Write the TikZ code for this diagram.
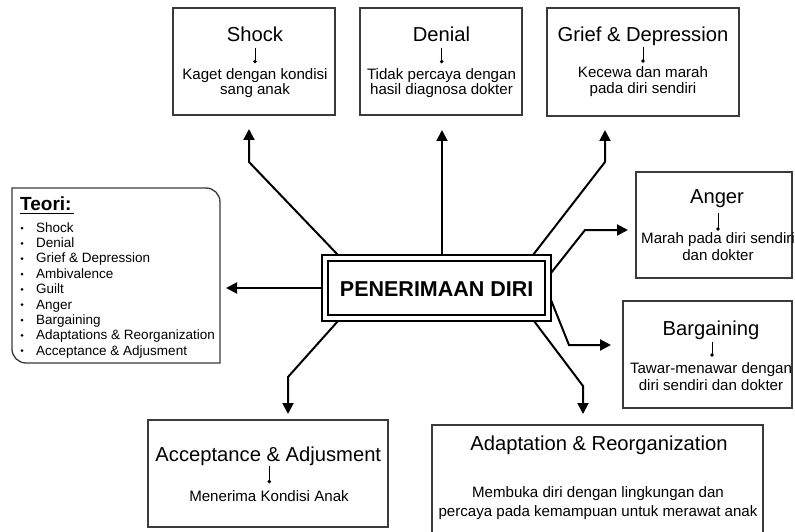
\documentclass[tikz,border=0pt]{standalone}
\usepackage{fontspec}
\setmainfont{Liberation Sans}
\usetikzlibrary{arrows.meta}
\definecolor{boxline}{HTML}{3A3A3A}
\begin{document}
\begin{tikzpicture}[x=1pt,y=-1pt,
  stagebox/.style={draw=boxline,line width=1.3pt,inner sep=0pt,outer sep=0pt},
  ttl/.style={anchor=base,inner sep=0pt,font=\fontsize{20.2}{24}\selectfont},
  sub/.style={anchor=base,inner sep=0pt,font=\fontsize{15.1}{17}\selectfont},
  lst/.style={anchor=base west,inner sep=0pt,font=\fontsize{13.5}{15}\selectfont},
  mainarrow/.style={line width=2pt,-{Triangle[length=11pt,width=11pt]}},
  dotline/.style={line width=0.8pt,-{Circle[length=3.5pt]}},
]
\useasboundingbox (0,0) rectangle (795,532);

% ---------- stage boxes ----------
\node[stagebox,minimum width=162,minimum height=107] (shock) at (254,61.5) {};
\node[stagebox,minimum width=162,minimum height=107] (denial) at (441,61.5) {};
\node[stagebox,minimum width=192,minimum height=108] (grief) at (643,62) {};
\node[stagebox,minimum width=156,minimum height=106] (anger) at (714,225) {};
\node[stagebox,minimum width=169,minimum height=107] (barg) at (707.5,354.5) {};
\node[stagebox,minimum width=240,minimum height=107] (accept) at (268,473.5) {};
\node[stagebox,minimum width=331,minimum height=120] (adapt) at (597.5,485) {};

% Shock
\node[ttl] (shockT) at (255,41.7) {Shock};
\node[sub] (shockD1) at (255,80) {Kaget dengan kondisi};
\node[sub] (shockD2) at (255,95) {sang anak};
\coordinate (shockA) at (255,47.7); \coordinate (shockB) at (255,63.3);
\draw[dotline] (shockA) -- (shockB);

% Denial
\node[ttl] (denialT) at (441.5,41.7) {Denial};
\node[sub] (denialD1) at (441.5,80) {Tidak percaya dengan};
\node[sub] (denialD2) at (441.5,95) {hasil diagnosa dokter};
\coordinate (denialA) at (441.7,47.7); \coordinate (denialB) at (441.7,63.3);
\draw[dotline] (denialA) -- (denialB);

% Grief
\node[ttl] (griefT) at (643,41.7) {Grief \& Depression};
\node[sub] (griefD1) at (643,77.5) {Kecewa dan marah};
\node[sub] (griefD2) at (643,93.3) {pada diri sendiri};
\coordinate (griefA) at (643,46.7); \coordinate (griefB) at (643,62.7);
\draw[dotline] (griefA) -- (griefB);

% Anger
\node[ttl] (angerT) at (717,203.3) {Anger};
\node[sub] (angerD1) at (718,243.3) {Marah pada diri sendiri};
\node[sub] (angerD2) at (718,260) {dan dokter};
\coordinate (angerA) at (718,213); \coordinate (angerB) at (718,230.7);
\draw[dotline] (angerA) -- (angerB);

% Bargaining
\node[ttl] (bargT) at (711,335) {Bargaining};
\node[sub] (bargD1) at (711,373.3) {Tawar-menawar dengan};
\node[sub] (bargD2) at (711,390) {diri sendiri dan dokter};
\coordinate (bargA) at (712,341.7); \coordinate (bargB) at (712,356.7);
\draw[dotline] (bargA) -- (bargB);

% Acceptance
\node[ttl] (acceptT) at (268.3,461.7) {Acceptance \& Adjusment};
\node[sub] (acceptD1) at (269,501.7) {Menerima Kondisi Anak};
\coordinate (acceptA) at (269.3,465.5); \coordinate (acceptB) at (269.3,483.3);
\draw[dotline] (acceptA) -- (acceptB);

% Adaptation
\node[ttl] (adaptT) at (599,450.7) {Adaptation \& Reorganization};
\node[sub] (adaptD1) at (598,497.5) {Membuka diri dengan lingkungan dan};
\node[sub] (adaptD2) at (598,516) {percaya pada kemampuan untuk merawat anak};

% ---------- centre ----------
\node[draw=black,line width=2pt,inner sep=0pt,outer sep=0pt,
      minimum width=229,minimum height=66] (centre) at (436.5,288) {};
\draw[line width=1.6pt] (328,261) rectangle (545,315);
\node[anchor=base,inner sep=0pt,font=\bfseries\fontsize{21.5}{25}\selectfont]
  (centreT) at (436.7,296) {PENERIMAAN DIRI};

% ---------- Teori box ----------
\node[inner sep=0pt,outer sep=0pt,minimum width=208,minimum height=175] (teori) at (115.5,275.5) {};
\draw[draw=boxline,line width=1.3pt]
  (12,188) -- (206,188) .. controls (213.7,188) and (220,194.3) .. (220,202)
  -- (220,363) -- (26,363) .. controls (18.3,363) and (12,356.7) .. (12,349) -- cycle;
\node[anchor=base west,inner sep=0pt,font=\bfseries\fontsize{19}{22}\selectfont]
  (teoriT) at (20,210) {Teori:};
\draw[line width=1.6pt] (20,213.3) -- (73.5,213.3);
\foreach \t [count=\i from 0] in {Shock,Denial,Grief \& Depression,Ambivalence,Guilt,Anger,Bargaining,Adaptations \& Reorganization,Acceptance \& Adjusment}{
  \fill (22,232.3+15.34*\i-4.3) circle (1.5);
  \node[lst] (item\i) at (36,232.3+15.34*\i) {\t};
}

% ---------- main arrows ----------
\coordinate (sShock) at (338,255);  \coordinate (tShock) at (249,129);
\coordinate (sDen) at (442,255);    \coordinate (tDen) at (442,130);
\coordinate (sGri) at (533,255);    \coordinate (tGri) at (605,130);
\coordinate (sAng) at (551,273);    \coordinate (tAng) at (628,230);
\coordinate (sBar) at (551,300);    \coordinate (tBar) at (611,345);
\coordinate (sAda) at (534,321);    \coordinate (tAda) at (583,414);
\coordinate (sAcc) at (338,321);    \coordinate (tAcc) at (288,414);
\coordinate (sTeo) at (322,288);    \coordinate (tTeo) at (226,288);

\draw[mainarrow] (sShock) -- (249,162) -- (tShock);
\draw[mainarrow] (sDen) -- (tDen);
\draw[mainarrow] (sGri) -- (605,162) -- (tGri);
\draw[mainarrow] (sAng) -- (585,230) -- (tAng);
\draw[mainarrow] (sBar) -- (569,345) -- (tBar);
\draw[mainarrow] (sAda) -- (583,386) -- (tAda);
\draw[mainarrow] (sAcc) -- (288,377) -- (tAcc);
\draw[mainarrow] (sTeo) -- (tTeo);
\end{tikzpicture}
\end{document}
